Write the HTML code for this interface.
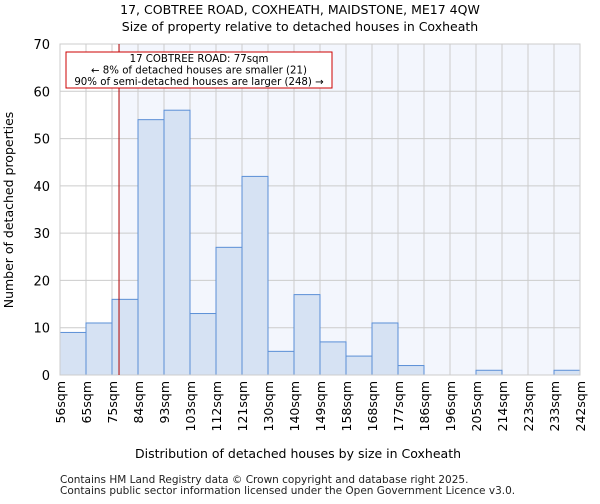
<!DOCTYPE html>
<html><head><meta charset="utf-8"><style>
body{margin:0;background:#fff;font-family:"DejaVu Sans","Liberation Sans",sans-serif;}
</style></head><body>
<svg id="chart" width="600" height="500" xmlns="http://www.w3.org/2000/svg" font-family="DejaVu Sans, Liberation Sans, sans-serif">
<text x="300" y="14" text-anchor="middle" font-size="12.5">17, COBTREE ROAD, COXHEATH, MAIDSTONE, ME17 4QW</text>
<text x="300" y="31" text-anchor="middle" font-size="12.5">Size of property relative to detached houses in Coxheath</text>
<g id="plot"></g>
<text x="298" y="458" text-anchor="middle" font-size="12.5">Distribution of detached houses by size in Coxheath</text>
<text transform="translate(13,210) rotate(-90)" text-anchor="middle" font-size="12.5">Number of detached properties</text>
<text x="60" y="483" font-size="10.5" fill="#222">Contains HM Land Registry data © Crown copyright and database right 2025.</text>
<text x="60" y="494" font-size="10.5" fill="#222">Contains public sector information licensed under the Open Government Licence v3.0.</text>
</svg>
<script>
const labels=["56sqm","65sqm","75sqm","84sqm","93sqm","103sqm","112sqm","121sqm","130sqm","140sqm","149sqm","158sqm","168sqm","177sqm","186sqm","196sqm","205sqm","214sqm","223sqm","233sqm","242sqm"];
const counts=[9,11,16,54,56,13,27,42,5,17,7,4,11,2,0,0,1,0,0,1];
const yTicks=[0,10,20,30,40,50,60,70];
const propertyBin=2.27;
const NS="http://www.w3.org/2000/svg";
const g=document.getElementById('plot');
const X0=60,X1=580,Y0=375,Y1=44,YMAX=70;
const bw=(X1-X0)/counts.length;
const xs=i=>X0+i*bw;
const ys=v=>Y0-(v/YMAX)*(Y0-Y1);
function mk(t,a){const e=document.createElementNS(NS,t);for(const k in a)e.setAttribute(k,a[k]);g.appendChild(e);return e;}
const px=xs(propertyBin);
let e=mk('rect',{x:px,y:Y1,width:X1-px,height:Y0-Y1,fill:'#f3f6fd'});


yTicks.forEach(v=>{
 let l=mk('line',{x1:X0,x2:X1,y1:ys(v),y2:ys(v),stroke:'#cccccc','stroke-width':1});
 
 
 let t=mk('text',{x:X0-10,y:ys(v)+5,'text-anchor':'end','font-size':'13'});t.textContent=v;
 
 
});
labels.forEach((s,i)=>{
 let l=mk('line',{x1:xs(i),x2:xs(i),y1:Y1,y2:Y0,stroke:'#cccccc','stroke-width':1});
 
 
 let t=mk('text',{transform:`translate(${xs(i)+5},${Y0+6}) rotate(-90)`,'text-anchor':'end','font-size':'12.5'});t.textContent=s;
 
 
});
counts.forEach((c,i)=>{
 if(c<=0)return;
 let r=mk('rect',{x:xs(i),y:ys(c),width:bw,height:Y0-ys(c),fill:'#d6e2f3',stroke:'#5b8fd6','stroke-width':1});
 
 
});
let ax=mk('rect',{x:X0,y:Y1,width:X1-X0,height:Y0-Y1,fill:'none',stroke:'#cccccc'});


let pl=mk('line',{x1:px,x2:px,y1:Y1,y2:Y0,stroke:'#b00000','stroke-width':1});


let bx=mk('rect',{x:66,y:52,width:266,height:36,fill:'#fff',stroke:'#cc0000','stroke-width':1});


["17 COBTREE ROAD: 77sqm","← 8% of detached houses are smaller (21)","90% of semi-detached houses are larger (248) →"].forEach((s,i)=>{
 let t=mk('text',{x:199,y:62+i*11.5,'text-anchor':'middle','font-size':'10.2'});t.textContent=s;
 
 
});
</script>
</body></html>
